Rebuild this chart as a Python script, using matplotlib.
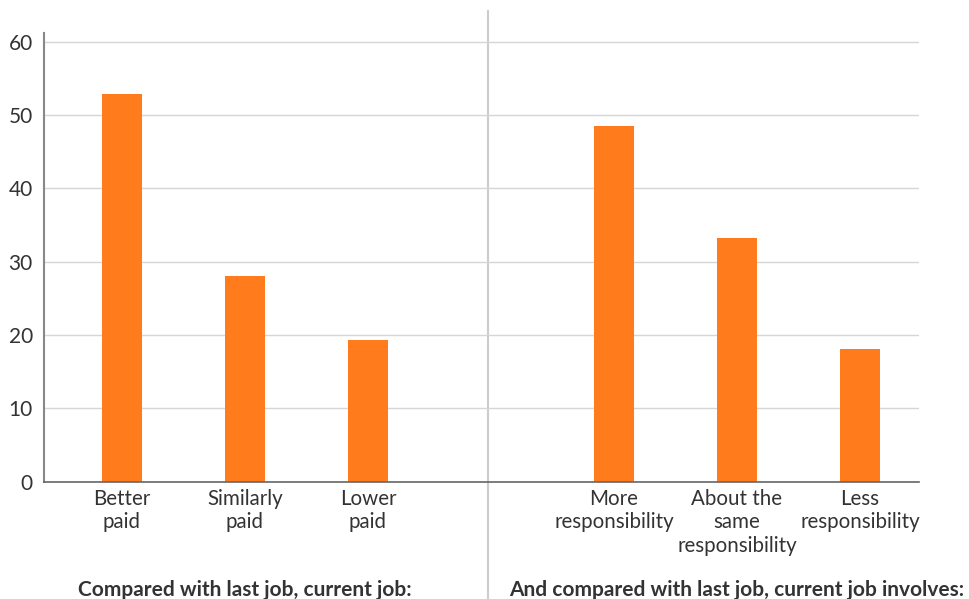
import numpy as np
import matplotlib
matplotlib.use('Agg')
import matplotlib.pyplot as plt

# values (percent)
pay_labels = ['Better\npaid', 'Similarly\npaid', 'Lower\npaid']
pay_values = [52.9, 28.1, 19.3]
resp_labels = ['More\nresponsibility', 'About the\nsame\nresponsibility', 'Less\nresponsibility']
resp_values = [48.5, 33.3, 18.1]
group_titles = ['Compared with last job, current job:',
                'And compared with last job, current job involves:']
y_ticks = [0, 10, 20, 30, 40, 50, 60]

plt.rcParams['font.family'] = ['Lato', 'DejaVu Sans']
text_col = '#333333'
bar_col = '#FF7B1C'

fig = plt.figure(figsize=(9.7, 5.99), dpi=100)
W, H = 970, 599
ax = fig.add_axes([44 / W, 1 - 481.7 / H, (919 - 44) / W, (481.7 - 33) / H])

x_pay = np.arange(len(pay_values))
x_resp = np.arange(len(resp_values)) + len(pay_values) + 1
ax.bar(x_pay, pay_values, width=0.325, color=bar_col, zorder=3)
ax.bar(x_resp, resp_values, width=0.325, color=bar_col, zorder=3)

ax.set_xlim(-0.634, 6.48)
ax.set_ylim(0, 61.2)
ax.set_yticks(y_ticks)
ax.set_yticklabels([str(t) for t in y_ticks], fontsize=15, color=text_col)
ax.tick_params(axis='y', length=0, pad=8)
ax.set_xticks([])
ax.grid(axis='y', color='#d6d6d6', linewidth=1, zorder=0)

for s in ['top', 'right']:
    ax.spines[s].set_visible(False)
ax.spines['left'].set_color('#888888')
ax.spines['left'].set_linewidth(1.5)
ax.spines['bottom'].set_color('#666666')
ax.spines['bottom'].set_linewidth(1.2)
ax.spines['bottom'].set_zorder(4)

# category labels under the bars
for xs, labs in [(x_pay, pay_labels), (x_resp, resp_labels)]:
    for x, lab in zip(xs, labs):
        ax.annotate(lab, xy=(x, 0), xycoords='data', xytext=(0, -5),
                    textcoords='offset points', ha='center', va='top',
                    fontsize=14.8, color=text_col, linespacing=1.22)

# group titles
ax.annotate(group_titles[0], xy=(x_pay[1], 0), xytext=(0, -78),
            textcoords='offset points', ha='center', va='center',
            fontsize=15, fontweight='bold', color=text_col)
ax.annotate(group_titles[1], xy=(x_resp[1], 0), xytext=(0, -78),
            textcoords='offset points', ha='center', va='center',
            fontsize=15, fontweight='bold', color=text_col)

# divider between the two groups
ax.axvline(len(pay_values) - 0.025, ymin=-0.3, ymax=1.05, color='#cccccc',
           linewidth=1.5, clip_on=False, zorder=1)

fig.savefig('out.png', dpi=100)
